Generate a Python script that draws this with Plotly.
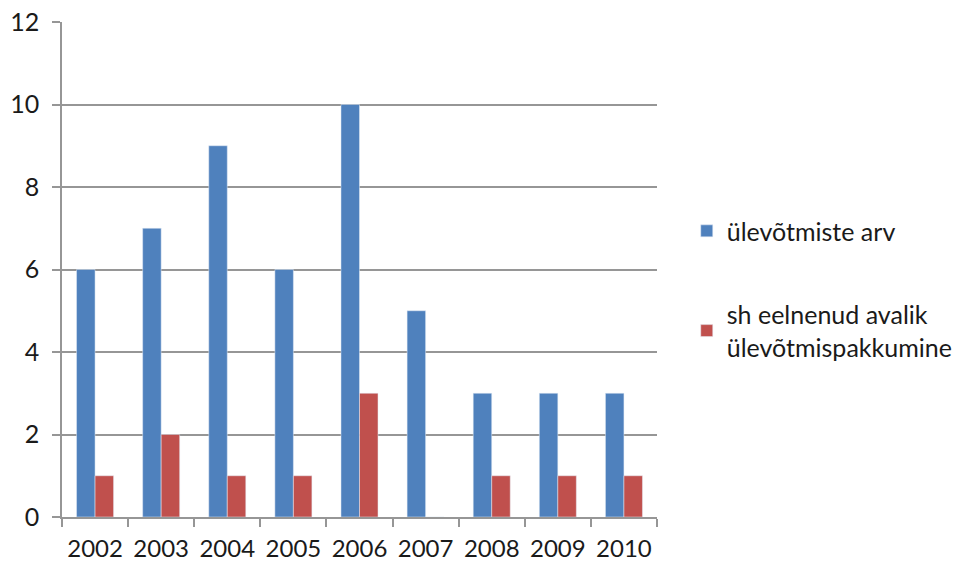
import plotly.graph_objects as go

years = ["2002", "2003", "2004", "2005", "2006", "2007", "2008", "2009", "2010"]
takeovers = [6, 7, 9, 6, 10, 5, 3, 3, 3]
public_offers = [1, 2, 1, 1, 3, 0, 1, 1, 1]

blue = "#4F81BD"
red = "#C0504D"
grey = "#969696"
font_family = "Lato, Carlito, Calibri, sans-serif"

fig = go.Figure()
fig.add_trace(go.Bar(x=years, y=takeovers, name="ülevõtmiste arv",
                     marker_color=blue, legendgroup="a"))
fig.add_trace(go.Bar(x=years, y=public_offers,
                     name="sh eelnenud avalik<br>ülevõtmispakkumine",
                     marker_color=red, legendgroup="b"))

fig.update_layout(
    width=961, height=565,
    margin=dict(l=62, r=304, t=22, b=48, autoexpand=False),
    paper_bgcolor="white", plot_bgcolor="white",
    barmode="group", bargap=0.44, bargroupgap=0,
    font=dict(family=font_family, size=25, color="#1a1a1a"),
    legend=dict(x=1.05, y=0.624, xanchor="left", yanchor="top",
                traceorder="grouped", tracegroupgap=48,
                font=dict(size=25), bgcolor="rgba(0,0,0,0)"),
    showlegend=True,
)
fig.update_xaxes(showline=True, linecolor=grey, linewidth=1.5,
                 ticks="outside", tickson="boundaries", ticklen=8,
                 tickcolor=grey, tickwidth=1.5, showgrid=False,
                 tickangle=0, tickfont=dict(size=24),
                 ticklabelstandoff=9, automargin=False)
fig.update_yaxes(range=[0, 12], dtick=2, showline=True, linecolor=grey,
                 linewidth=1.5, ticks="outside", ticklen=8, tickcolor=grey,
                 tickwidth=1.5, showgrid=True, gridcolor=grey, gridwidth=1.5,
                 zeroline=False, ticklabelstandoff=8, automargin=False)

fig.write_html("out.html")
